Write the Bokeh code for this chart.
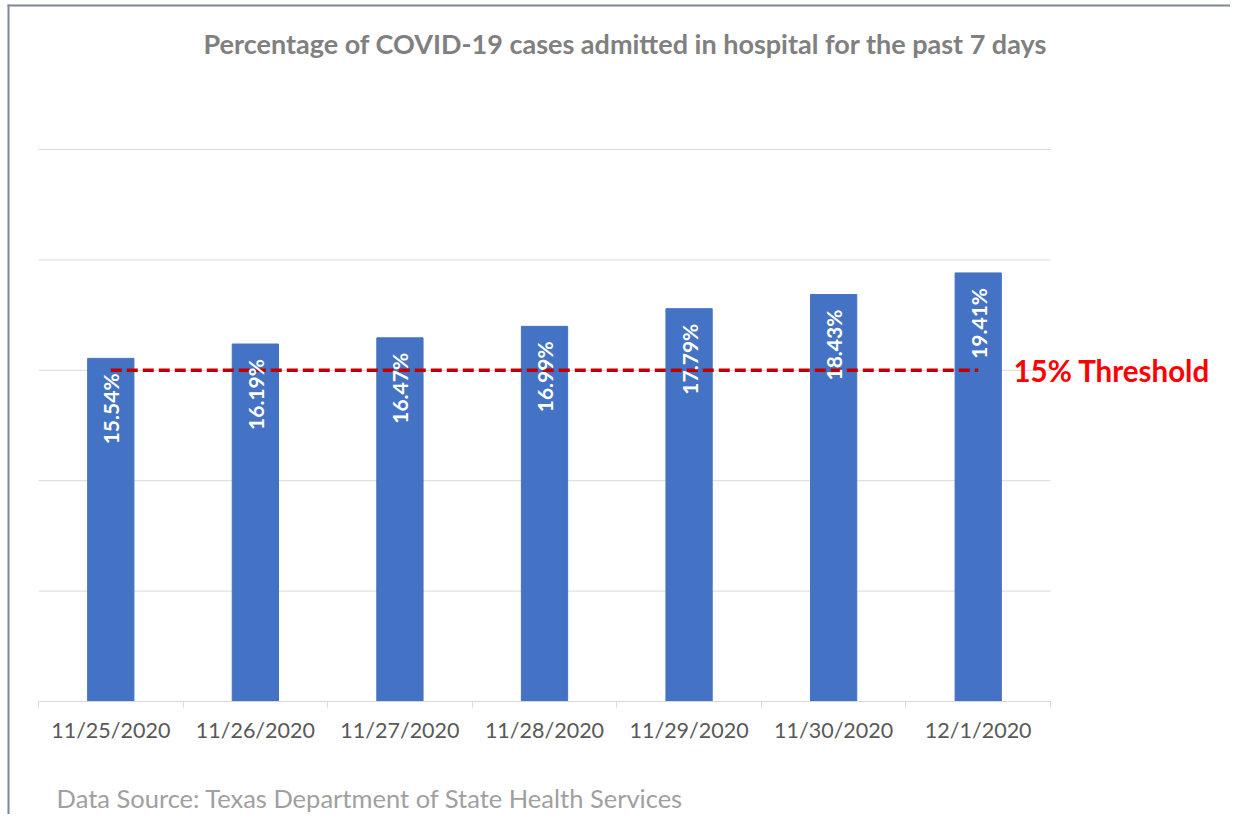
import math
from bokeh.plotting import figure
from bokeh.models import ColumnDataSource, FixedTicker, Range1d, Label
from bokeh.transform import dodge
from bokeh.core.properties import value
from bokeh.embed import file_html
from bokeh.resources import INLINE

# ---- data ----
dates = ["11/25/2020", "11/26/2020", "11/27/2020", "11/28/2020",
         "11/29/2020", "11/30/2020", "12/1/2020"]
pct = [15.54, 16.19, 16.47, 16.99, 17.79, 18.43, 19.41]
threshold = 15
threshold_label = "15% Threshold"
title_text = "Percentage of COVID-19 cases admitted in hospital for the past 7 days"
source_text = "Data Source: Texas Department of State Health Services"
y_gridlines = [5, 10, 15, 20, 25]

FONT = "Lato"
n = len(dates)

xs = [i + 0.5 for i in range(n)]
src = ColumnDataSource(dict(x=xs, y=pct, lbl=[f"{v:.2f}%" for v in pct]))

p = figure(width=1230, height=814, output_backend="svg", toolbar_location=None,
           x_range=Range1d(-0.26285, n + 1.24506),
           y_range=Range1d(-5.1178, 31.7482),
           min_border_left=0, min_border_right=0, min_border_top=0,
           min_border_bottom=0)
p.outline_line_color = None
p.background_fill_color = "white"
p.border_fill_color = "white"
p.xgrid.visible = False
p.ygrid.visible = False
p.yaxis.visible = False

# chart border (top and left)
BORDER_X = -0.2075   # data x of left border
BORDER_Y = 31.522    # data y of top border
p.segment(x0=[BORDER_X - 0.007, BORDER_X], x1=[p.x_range.end, BORDER_X],
          y0=[BORDER_Y, p.y_range.start], y1=[BORDER_Y, BORDER_Y + 0.045],
          line_color="#7F8794", line_width=2)

# gridlines over the category span
p.segment(x0=[0] * len(y_gridlines), x1=[n] * len(y_gridlines),
          y0=y_gridlines, y1=y_gridlines, line_color="#D9D9D9", line_width=1)

p.vbar(x="x", top="y", width=0.32, source=src, color="#4472C4", line_color="#4472C4")

p.line(x=[xs[0], xs[-1]], y=[threshold, threshold], line_color="#C00000",
       line_width=3.5, line_dash="11 5")

p.text(x="x", y=dodge("y", -0.68, range=p.y_range), text="lbl", source=src,
       angle=math.pi / 2, text_align="right", text_baseline="middle",
       text_color="white", text_font=value(FONT), text_font_style="bold",
       text_font_size="21px")

# x axis at y = 0
xa = p.xaxis[0]
xa.fixed_location = 0
xa.bounds = (0, n)
xa.ticker = FixedTicker(ticks=xs, minor_ticks=list(range(n + 1)))
xa.major_label_overrides = {x: d for x, d in zip(xs, dates)}
xa.major_tick_out = 0
xa.major_tick_in = 0
xa.minor_tick_out = 6
xa.minor_tick_in = 0
xa.minor_tick_line_color = "#D9D9D9"
xa.axis_line_color = "#D9D9D9"
xa.major_label_text_font = FONT
xa.major_label_text_font_size = "21.5px"
xa.major_label_text_color = "#595959"
xa.major_label_standoff = 10

p.add_layout(Label(x=4.06, y=29.8, text=title_text, text_align="center",
                   text_baseline="middle", text_font=FONT, text_font_style="bold",
                   text_font_size="27px", text_color="#808080"))
p.add_layout(Label(x=0.125, y=-4.35, text=source_text, text_align="left",
                   text_baseline="middle", text_font=FONT,
                   text_font_size="25.5px", text_color="#A0A0A0"))
p.add_layout(Label(x=6.744, y=threshold, text=threshold_label, text_align="left",
                   text_baseline="middle", text_font=FONT, text_font_style="bold",
                   text_font_size="29.5px", text_color="#FF0000"))

open("out.html", "w").write(file_html(p, INLINE))
